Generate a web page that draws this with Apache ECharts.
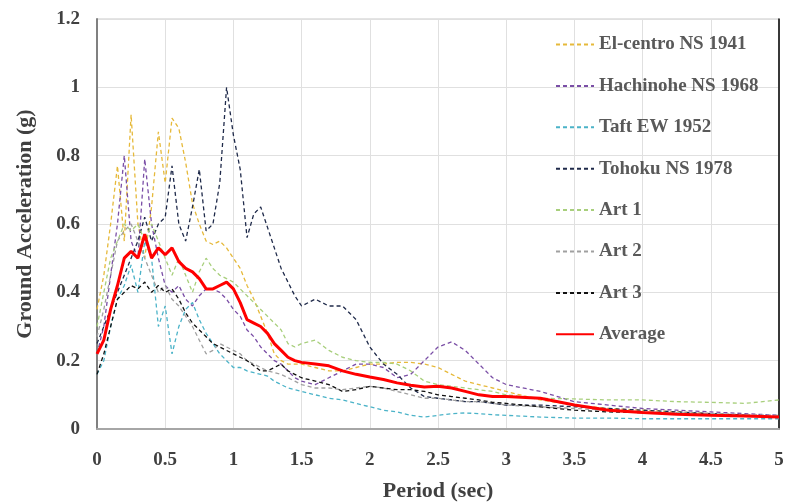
<!DOCTYPE html>
<html>
<head>
<meta charset="utf-8">
<script src="https://cdn.jsdelivr.net/npm/echarts@6/dist/echarts.min.js"></script>
<style>
  html, body { margin: 0; padding: 0; background: #fff; }
  #chart { width: 787px; height: 502px; }
</style>
</head>
<body>
<div id="chart"></div>
<script>
// periods (sec)
const periods = [0, 0.05, 0.1, 0.15, 0.2, 0.25, 0.3, 0.35, 0.4, 0.45, 0.5, 0.55, 0.6, 0.65, 0.7, 0.75, 0.8, 0.85, 0.9, 0.95,
  1, 1.05, 1.1, 1.15, 1.2, 1.25, 1.3, 1.35, 1.4, 1.45, 1.5,
  1.6, 1.7, 1.8, 1.9, 2, 2.1, 2.2, 2.3, 2.4, 2.5, 2.6, 2.7, 2.8, 2.9, 3,
  3.25, 3.5, 3.75, 4, 4.25, 4.5, 4.75, 5];

const elCentro = [0.35, 0.45, 0.6, 0.77, 0.55, 0.92, 0.6, 0.5, 0.65, 0.87,
  0.72, 0.91, 0.88, 0.78, 0.66, 0.6, 0.55, 0.54, 0.55, 0.53,
  0.5, 0.47, 0.42, 0.38, 0.33, 0.28, 0.22, 0.2, 0.19, 0.19,
  0.19,
  0.18, 0.17, 0.17, 0.18, 0.19, 0.19, 0.195, 0.195, 0.19, 0.18, 0.16, 0.14, 0.13, 0.12, 0.11,
  0.085, 0.07, 0.06, 0.055, 0.05, 0.045, 0.04, 0.035];

const hachinohe = [0.22, 0.3, 0.45, 0.6, 0.8, 0.55, 0.5, 0.79, 0.6, 0.5,
  0.42, 0.4, 0.42, 0.38, 0.36, 0.39, 0.41, 0.41, 0.4, 0.38,
  0.35, 0.33, 0.29, 0.27, 0.24, 0.22, 0.2, 0.19, 0.17, 0.15,
  0.14,
  0.13, 0.15, 0.17, 0.19, 0.19, 0.18, 0.15, 0.16, 0.2, 0.24, 0.255, 0.23, 0.19, 0.15, 0.13,
  0.11, 0.08, 0.07, 0.06, 0.055, 0.05, 0.045, 0.04];

const taft = [0.16, 0.2, 0.3, 0.38, 0.42, 0.48, 0.4, 0.55, 0.5, 0.3,
  0.36, 0.22, 0.3, 0.35, 0.37, 0.32, 0.28, 0.25, 0.22, 0.2,
  0.18, 0.18, 0.17, 0.165, 0.16, 0.155, 0.14, 0.13, 0.12, 0.115,
  0.11,
  0.1, 0.09, 0.085, 0.075, 0.065, 0.055, 0.05, 0.04, 0.035, 0.04, 0.045, 0.047, 0.045, 0.042, 0.04,
  0.035, 0.032, 0.032, 0.03, 0.03, 0.03, 0.03, 0.03];

const tohoku = [0.25, 0.3, 0.35, 0.4, 0.45, 0.5, 0.55, 0.62, 0.55, 0.6,
  0.62, 0.77, 0.6, 0.55, 0.65, 0.76, 0.58, 0.6, 0.72, 1.0,
  0.86, 0.76, 0.56, 0.63, 0.65, 0.59, 0.53, 0.47, 0.43, 0.39,
  0.36,
  0.38, 0.36, 0.36, 0.32, 0.24, 0.19, 0.16, 0.12, 0.095, 0.09, 0.085, 0.08, 0.08, 0.075, 0.07,
  0.07, 0.065, 0.06, 0.055, 0.05, 0.045, 0.04, 0.035];

const art1 = [0.3, 0.4, 0.5, 0.55, 0.6, 0.58, 0.6, 0.55, 0.6, 0.55,
  0.5, 0.45, 0.5, 0.45, 0.4, 0.46, 0.5, 0.47, 0.45, 0.44,
  0.43, 0.41, 0.39, 0.37, 0.35, 0.33, 0.31, 0.29, 0.25, 0.24,
  0.25,
  0.26, 0.23, 0.21, 0.2, 0.195, 0.195, 0.19, 0.17, 0.14, 0.13, 0.125, 0.12, 0.115, 0.11, 0.1,
  0.09, 0.088, 0.085, 0.085, 0.08, 0.078, 0.075, 0.085];

const art2 = [0.27, 0.35, 0.45, 0.55, 0.58, 0.6, 0.55, 0.5, 0.45, 0.4,
  0.42, 0.38, 0.36, 0.33, 0.3, 0.26, 0.22, 0.23, 0.25, 0.24,
  0.23, 0.22, 0.2, 0.19, 0.18, 0.17, 0.165, 0.16, 0.15, 0.14,
  0.13,
  0.12, 0.12, 0.115, 0.12, 0.125, 0.12, 0.11, 0.1, 0.09, 0.09, 0.085, 0.08, 0.08, 0.075, 0.07,
  0.065, 0.06, 0.055, 0.05, 0.048, 0.045, 0.042, 0.04];

const art3 = [0.16, 0.22, 0.3, 0.38, 0.4, 0.42, 0.41, 0.43, 0.4, 0.42,
  0.4, 0.41, 0.38, 0.34, 0.31, 0.29, 0.27, 0.25, 0.24, 0.23,
  0.22, 0.21, 0.2, 0.185, 0.17, 0.17, 0.18, 0.19, 0.17, 0.16,
  0.15,
  0.14, 0.13, 0.11, 0.115, 0.125, 0.12, 0.115, 0.115, 0.11, 0.1, 0.095, 0.09, 0.085, 0.078, 0.075,
  0.065, 0.055, 0.05, 0.048, 0.045, 0.042, 0.04, 0.035];

const average = [0.22, 0.26, 0.35, 0.42, 0.5, 0.52, 0.5, 0.57, 0.5, 0.53,
  0.51, 0.53, 0.49, 0.47, 0.46, 0.44, 0.41, 0.41, 0.42, 0.43,
  0.41, 0.37, 0.32, 0.31, 0.3, 0.28, 0.25, 0.23, 0.21, 0.2,
  0.195,
  0.19, 0.185, 0.17, 0.16, 0.152, 0.145, 0.135, 0.128, 0.123, 0.125, 0.12, 0.11, 0.1, 0.095, 0.095,
  0.09, 0.07, 0.055, 0.048, 0.043, 0.04, 0.038, 0.035];

const seriesNames = ["El-centro NS 1941", "Hachinohe NS 1968", "Taft EW 1952", "Tohoku NS 1978", "Art 1", "Art 2", "Art 3", "Average"];
const seriesValues = [elCentro, hachinohe, taft, tohoku, art1, art2, art3, average];
const seriesColors = ["#e6b93a", "#7a4ea6", "#4bb3c8", "#1f2a4a", "#a8cf7c", "#a0a0a0", "#111111", "#ff0000"];

const font = "Liberation Serif";

let mychart = echarts.init(document.getElementById("chart"));

const series = seriesNames.map((name, i) => {
  const isAvg = name === "Average";
  return {
    name: name,
    type: "line",
    symbol: "none",
    color: seriesColors[i],
    z: isAvg ? 5 : 2,
    lineStyle: {
      color: seriesColors[i],
      width: isAvg ? 3 : 1.3,
      type: isAvg ? "solid" : [4, 3]
    },
    data: periods.map((p, k) => [p, seriesValues[i][k]])
  };
});

mychart.setOption({
  backgroundColor: "#fff",
  animation: false,
  grid: {
    left: 97,
    right: 8,
    top: 19,
    bottom: 73,
    outerBoundsMode: "none",
    containLabel: false,
    show: true,
    borderColor: "#c8c8c8",
    borderWidth: 1
  },
  legend: {
    orient: "vertical",
    left: 550,
    top: 30,
    itemWidth: 38,
    itemHeight: 14,
    itemGap: 22.4,
    data: seriesNames,
    itemStyle: { opacity: 0 },
    textStyle: {
      fontFamily: font,
      fontWeight: "bold",
      fontSize: 19,
      color: "#595959"
    }
  },
  xAxis: {
    type: "value",
    min: 0,
    max: 5,
    interval: 0.5,
    name: "Period (sec)",
    nameLocation: "middle",
    nameGap: 51,
    nameTextStyle: { fontFamily: font, fontWeight: "bold", fontSize: 22, color: "#404040" },
    axisLine: { lineStyle: { color: "#a6a6a6", width: 2 } },
    axisTick: { show: false },
    axisLabel: { fontFamily: font, fontWeight: "bold", fontSize: 19, color: "#404040", margin: 22 },
    splitLine: { lineStyle: { color: "#e0e0e0" } }
  },
  yAxis: [
    {
      type: "value",
      min: 0,
      max: 1.2,
      interval: 0.2,
      name: "Ground Acceleration (g)",
      nameLocation: "middle",
      nameGap: 61,
      nameTextStyle: { fontFamily: font, fontWeight: "bold", fontSize: 22, color: "#404040" },
      axisLine: { show: true, lineStyle: { color: "#808080", width: 2 } },
      axisTick: { show: false },
      axisLabel: { fontFamily: font, fontWeight: "bold", fontSize: 19, color: "#404040", margin: 17 },
      splitLine: { lineStyle: { color: "#e0e0e0" } }
    },
    {
      type: "value",
      min: 0,
      max: 1.2,
      interval: 0.2,
      position: "right",
      axisLine: { show: true, lineStyle: { color: "#000", width: 1.5 } },
      axisTick: { show: false },
      axisLabel: { show: false },
      splitLine: { show: false }
    }
  ],
  series: series
});
window.addEventListener("resize", () => {
  mychart.resize();
});
</script>
</body>
</html>
